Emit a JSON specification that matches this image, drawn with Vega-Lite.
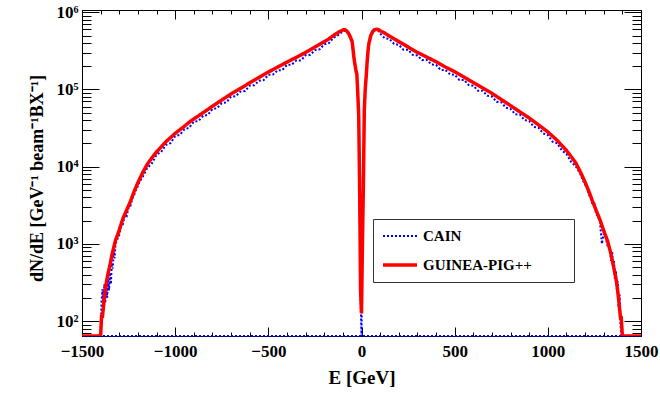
{
  "$schema": "https://vega.github.io/schema/vega-lite/v6.json",
  "autosize": "none",
  "width": 559,
  "height": 326,
  "padding": {"left": 82, "top": 10, "right": 19, "bottom": 58},
  "background": "white",
  "config": {
    "view": {"stroke": "black", "strokeWidth": 1},
    "axis": {
      "labelFont": "Liberation Serif", "labelFontWeight": "bold", "labelFontSize": 17, "labelColor": "black",
      "titleFont": "Liberation Serif", "titleFontWeight": "bold", "titleFontSize": 19, "titleColor": "black",
      "domainColor": "black", "tickColor": "black", "tickWidth": 1, "grid": false, "labelOverlap": false, "labelBound": false, "labelFlush": false
    }
  },
  "data": {"values": [
    {"series":"GUINEA-PIG++","E":-1500,"N":1},{"series":"GUINEA-PIG++","E":-1450,"N":1},{"series":"GUINEA-PIG++","E":-1400,"N":1},
    {"series":"GUINEA-PIG++","E":-1395,"N":115},
    {"series":"GUINEA-PIG++","E":-1390,"N":115},{"series":"GUINEA-PIG++","E":-1380,"N":200},{"series":"GUINEA-PIG++","E":-1370,"N":309},
    {"series":"GUINEA-PIG++","E":-1360,"N":417},{"series":"GUINEA-PIG++","E":-1350,"N":525},{"series":"GUINEA-PIG++","E":-1340,"N":710},
    {"series":"GUINEA-PIG++","E":-1330,"N":890},{"series":"GUINEA-PIG++","E":-1320,"N":1120},{"series":"GUINEA-PIG++","E":-1310,"N":1290},
    {"series":"GUINEA-PIG++","E":-1300,"N":1510},{"series":"GUINEA-PIG++","E":-1280,"N":2140},{"series":"GUINEA-PIG++","E":-1260,"N":2750},
    {"series":"GUINEA-PIG++","E":-1240,"N":3550},{"series":"GUINEA-PIG++","E":-1220,"N":4790},{"series":"GUINEA-PIG++","E":-1200,"N":6200},
    {"series":"GUINEA-PIG++","E":-1175,"N":8300},{"series":"GUINEA-PIG++","E":-1150,"N":10700},{"series":"GUINEA-PIG++","E":-1125,"N":13000},
    {"series":"GUINEA-PIG++","E":-1100,"N":15500},{"series":"GUINEA-PIG++","E":-1075,"N":18000},{"series":"GUINEA-PIG++","E":-1050,"N":21000},
    {"series":"GUINEA-PIG++","E":-1025,"N":23800},{"series":"GUINEA-PIG++","E":-1000,"N":27000},{"series":"GUINEA-PIG++","E":-975,"N":30000},
    {"series":"GUINEA-PIG++","E":-950,"N":33500},{"series":"GUINEA-PIG++","E":-925,"N":37500},{"series":"GUINEA-PIG++","E":-900,"N":41500},
    {"series":"GUINEA-PIG++","E":-875,"N":45500},{"series":"GUINEA-PIG++","E":-850,"N":50000},{"series":"GUINEA-PIG++","E":-825,"N":55000},
    {"series":"GUINEA-PIG++","E":-800,"N":60500},{"series":"GUINEA-PIG++","E":-775,"N":66500},{"series":"GUINEA-PIG++","E":-750,"N":73000},
    {"series":"GUINEA-PIG++","E":-725,"N":80000},{"series":"GUINEA-PIG++","E":-700,"N":87500},{"series":"GUINEA-PIG++","E":-675,"N":95000},
    {"series":"GUINEA-PIG++","E":-650,"N":103000},{"series":"GUINEA-PIG++","E":-625,"N":112000},{"series":"GUINEA-PIG++","E":-600,"N":122000},
    {"series":"GUINEA-PIG++","E":-575,"N":132000},{"series":"GUINEA-PIG++","E":-550,"N":143000},{"series":"GUINEA-PIG++","E":-525,"N":155000},
    {"series":"GUINEA-PIG++","E":-500,"N":168000},{"series":"GUINEA-PIG++","E":-475,"N":181000},{"series":"GUINEA-PIG++","E":-450,"N":195000},
    {"series":"GUINEA-PIG++","E":-425,"N":210000},{"series":"GUINEA-PIG++","E":-400,"N":226000},{"series":"GUINEA-PIG++","E":-375,"N":243000},
    {"series":"GUINEA-PIG++","E":-350,"N":260000},{"series":"GUINEA-PIG++","E":-325,"N":280000},{"series":"GUINEA-PIG++","E":-300,"N":302000},
    {"series":"GUINEA-PIG++","E":-275,"N":327000},{"series":"GUINEA-PIG++","E":-250,"N":355000},{"series":"GUINEA-PIG++","E":-225,"N":385000},
    {"series":"GUINEA-PIG++","E":-200,"N":417000},{"series":"GUINEA-PIG++","E":-175,"N":452000},{"series":"GUINEA-PIG++","E":-150,"N":501000},
    {"series":"GUINEA-PIG++","E":-125,"N":550000},{"series":"GUINEA-PIG++","E":-100,"N":589000},{"series":"GUINEA-PIG++","E":-90,"N":596000},
    {"series":"GUINEA-PIG++","E":-80,"N":575000},{"series":"GUINEA-PIG++","E":-70,"N":537000},{"series":"GUINEA-PIG++","E":-60,"N":479000},
    {"series":"GUINEA-PIG++","E":-50,"N":417000},{"series":"GUINEA-PIG++","E":-40,"N":251000},{"series":"GUINEA-PIG++","E":-30,"N":178000},
    {"series":"GUINEA-PIG++","E":-25,"N":158000},{"series":"GUINEA-PIG++","E":-20,"N":89100},{"series":"GUINEA-PIG++","E":-15,"N":46800},
    {"series":"GUINEA-PIG++","E":-10,"N":5500},{"series":"GUINEA-PIG++","E":-5,"N":251},{"series":"GUINEA-PIG++","E":0,"N":126},
    {"series":"GUINEA-PIG++","E":5,"N":1000},{"series":"GUINEA-PIG++","E":10,"N":5500},{"series":"GUINEA-PIG++","E":15,"N":53700},
    {"series":"GUINEA-PIG++","E":20,"N":100000},{"series":"GUINEA-PIG++","E":25,"N":144500},{"series":"GUINEA-PIG++","E":30,"N":224000},
    {"series":"GUINEA-PIG++","E":35,"N":316000},{"series":"GUINEA-PIG++","E":40,"N":398000},{"series":"GUINEA-PIG++","E":50,"N":501000},
    {"series":"GUINEA-PIG++","E":60,"N":562000},{"series":"GUINEA-PIG++","E":70,"N":596000},{"series":"GUINEA-PIG++","E":80,"N":603000},
    {"series":"GUINEA-PIG++","E":90,"N":596000},{"series":"GUINEA-PIG++","E":100,"N":575000},{"series":"GUINEA-PIG++","E":125,"N":537000},
    {"series":"GUINEA-PIG++","E":150,"N":490000},{"series":"GUINEA-PIG++","E":175,"N":452000},{"series":"GUINEA-PIG++","E":200,"N":417000},
    {"series":"GUINEA-PIG++","E":225,"N":385000},{"series":"GUINEA-PIG++","E":250,"N":355000},{"series":"GUINEA-PIG++","E":275,"N":327000},
    {"series":"GUINEA-PIG++","E":300,"N":302000},{"series":"GUINEA-PIG++","E":325,"N":282000},{"series":"GUINEA-PIG++","E":350,"N":263000},
    {"series":"GUINEA-PIG++","E":375,"N":245000},{"series":"GUINEA-PIG++","E":400,"N":229000},{"series":"GUINEA-PIG++","E":425,"N":211000},
    {"series":"GUINEA-PIG++","E":450,"N":195000},{"series":"GUINEA-PIG++","E":475,"N":182000},{"series":"GUINEA-PIG++","E":500,"N":170000},
    {"series":"GUINEA-PIG++","E":525,"N":157000},{"series":"GUINEA-PIG++","E":550,"N":145000},{"series":"GUINEA-PIG++","E":575,"N":133000},
    {"series":"GUINEA-PIG++","E":600,"N":123000},{"series":"GUINEA-PIG++","E":625,"N":113500},{"series":"GUINEA-PIG++","E":650,"N":104700},
    {"series":"GUINEA-PIG++","E":675,"N":96600},{"series":"GUINEA-PIG++","E":700,"N":89100},{"series":"GUINEA-PIG++","E":725,"N":81300},
    {"series":"GUINEA-PIG++","E":750,"N":74100},{"series":"GUINEA-PIG++","E":775,"N":67600},{"series":"GUINEA-PIG++","E":800,"N":61700},
    {"series":"GUINEA-PIG++","E":825,"N":56200},{"series":"GUINEA-PIG++","E":850,"N":51300},{"series":"GUINEA-PIG++","E":875,"N":46800},
    {"series":"GUINEA-PIG++","E":900,"N":42700},{"series":"GUINEA-PIG++","E":925,"N":38500},{"series":"GUINEA-PIG++","E":950,"N":34700},
    {"series":"GUINEA-PIG++","E":975,"N":31300},{"series":"GUINEA-PIG++","E":1000,"N":28200},{"series":"GUINEA-PIG++","E":1025,"N":24800},
    {"series":"GUINEA-PIG++","E":1050,"N":21900},{"series":"GUINEA-PIG++","E":1075,"N":18800},{"series":"GUINEA-PIG++","E":1100,"N":16200},
    {"series":"GUINEA-PIG++","E":1125,"N":13500},{"series":"GUINEA-PIG++","E":1150,"N":11200},{"series":"GUINEA-PIG++","E":1175,"N":8510},
    {"series":"GUINEA-PIG++","E":1200,"N":6310},{"series":"GUINEA-PIG++","E":1220,"N":4790},{"series":"GUINEA-PIG++","E":1240,"N":3550},
    {"series":"GUINEA-PIG++","E":1260,"N":2690},{"series":"GUINEA-PIG++","E":1280,"N":2040},{"series":"GUINEA-PIG++","E":1300,"N":1480},
    {"series":"GUINEA-PIG++","E":1320,"N":1100},{"series":"GUINEA-PIG++","E":1340,"N":724},{"series":"GUINEA-PIG++","E":1360,"N":417},
    {"series":"GUINEA-PIG++","E":1370,"N":309},{"series":"GUINEA-PIG++","E":1380,"N":191},{"series":"GUINEA-PIG++","E":1390,"N":110},
    {"series":"GUINEA-PIG++","E":1394,"N":110},
    {"series":"GUINEA-PIG++","E":1400,"N":1},{"series":"GUINEA-PIG++","E":1450,"N":1},{"series":"GUINEA-PIG++","E":1500,"N":1},

    {"series":"CAIN","E":-1500,"N":1},{"series":"CAIN","E":-1450,"N":1},{"series":"CAIN","E":-1400,"N":1},
    {"series":"CAIN","E":-1395,"N":180},{"series":"CAIN","E":-1390,"N":260},{"series":"CAIN","E":-1385,"N":140},
    {"series":"CAIN","E":-1380,"N":300},{"series":"CAIN","E":-1375,"N":170},{"series":"CAIN","E":-1370,"N":340},
    {"series":"CAIN","E":-1365,"N":200},{"series":"CAIN","E":-1360,"N":370},{"series":"CAIN","E":-1355,"N":250},
    {"series":"CAIN","E":-1350,"N":420},{"series":"CAIN","E":-1345,"N":300},{"series":"CAIN","E":-1340,"N":560},
    {"series":"CAIN","E":-1335,"N":480},{"series":"CAIN","E":-1330,"N":800},{"series":"CAIN","E":-1325,"N":650},
    {"series":"CAIN","E":-1320,"N":1000},{"series":"CAIN","E":-1310,"N":1150},{"series":"CAIN","E":-1300,"N":1300},
    {"series":"CAIN","E":-1290,"N":1700},{"series":"CAIN","E":-1280,"N":1800},{"series":"CAIN","E":-1270,"N":2400},
    {"series":"CAIN","E":-1260,"N":2300},{"series":"CAIN","E":-1250,"N":3000},{"series":"CAIN","E":-1240,"N":3100},
    {"series":"CAIN","E":-1230,"N":3900},{"series":"CAIN","E":-1220,"N":4300},{"series":"CAIN","E":-1210,"N":5000},
    {"series":"CAIN","E":-1200,"N":5600},{"series":"CAIN","E":-1190,"N":6500},{"series":"CAIN","E":-1175,"N":7300},
    {"series":"CAIN","E":-1150,"N":9600},{"series":"CAIN","E":-1125,"N":11000},{"series":"CAIN","E":-1100,"N":14300},
    {"series":"CAIN","E":-1075,"N":15500},{"series":"CAIN","E":-1050,"N":19100},{"series":"CAIN","E":-1025,"N":20200},
    {"series":"CAIN","E":-1000,"N":24800},{"series":"CAIN","E":-975,"N":25800},{"series":"CAIN","E":-950,"N":30500},
    {"series":"CAIN","E":-925,"N":31900},{"series":"CAIN","E":-900,"N":38200},{"series":"CAIN","E":-875,"N":39100},
    {"series":"CAIN","E":-850,"N":45500},{"series":"CAIN","E":-825,"N":46800},{"series":"CAIN","E":-800,"N":55700},
    {"series":"CAIN","E":-775,"N":57200},{"series":"CAIN","E":-750,"N":66400},{"series":"CAIN","E":-725,"N":68000},
    {"series":"CAIN","E":-700,"N":80500},{"series":"CAIN","E":-675,"N":81700},{"series":"CAIN","E":-650,"N":93700},
    {"series":"CAIN","E":-625,"N":95200},{"series":"CAIN","E":-600,"N":112000},{"series":"CAIN","E":-575,"N":113500},
    {"series":"CAIN","E":-550,"N":130000},{"series":"CAIN","E":-525,"N":132000},{"series":"CAIN","E":-500,"N":155000},
    {"series":"CAIN","E":-475,"N":156000},{"series":"CAIN","E":-450,"N":177000},{"series":"CAIN","E":-425,"N":178500},
    {"series":"CAIN","E":-400,"N":208000},{"series":"CAIN","E":-375,"N":209000},{"series":"CAIN","E":-350,"N":237000},
    {"series":"CAIN","E":-325,"N":238000},{"series":"CAIN","E":-300,"N":278000},{"series":"CAIN","E":-275,"N":281000},
    {"series":"CAIN","E":-250,"N":323000},{"series":"CAIN","E":-225,"N":331000},{"series":"CAIN","E":-200,"N":384000},
    {"series":"CAIN","E":-175,"N":398000},{"series":"CAIN","E":-150,"N":466000},{"series":"CAIN","E":-125,"N":506000},
    {"series":"CAIN","E":-100,"N":565000},{"series":"CAIN","E":-90,"N":580000},{"series":"CAIN","E":-80,"N":560000},
    {"series":"CAIN","E":-70,"N":520000},{"series":"CAIN","E":-60,"N":465000},{"series":"CAIN","E":-50,"N":400000},
    {"series":"CAIN","E":-40,"N":240000},{"series":"CAIN","E":-30,"N":170000},{"series":"CAIN","E":-25,"N":152000},
    {"series":"CAIN","E":-20,"N":85000},{"series":"CAIN","E":-15,"N":44000},{"series":"CAIN","E":-10,"N":4800},
    {"series":"CAIN","E":-5,"N":200},{"series":"CAIN","E":0,"N":1},{"series":"CAIN","E":5,"N":1300},
    {"series":"CAIN","E":10,"N":5000},{"series":"CAIN","E":15,"N":50000},{"series":"CAIN","E":20,"N":95000},
    {"series":"CAIN","E":25,"N":140000},{"series":"CAIN","E":30,"N":215000},{"series":"CAIN","E":35,"N":305000},
    {"series":"CAIN","E":40,"N":385000},{"series":"CAIN","E":50,"N":490000},{"series":"CAIN","E":60,"N":545000},
    {"series":"CAIN","E":70,"N":580000},{"series":"CAIN","E":80,"N":590000},{"series":"CAIN","E":90,"N":575000},
    {"series":"CAIN","E":100,"N":529000},{"series":"CAIN","E":125,"N":462000},{"series":"CAIN","E":150,"N":451000},
    {"series":"CAIN","E":175,"N":389000},{"series":"CAIN","E":200,"N":379000},{"series":"CAIN","E":225,"N":327000},
    {"series":"CAIN","E":250,"N":327000},{"series":"CAIN","E":275,"N":281000},{"series":"CAIN","E":300,"N":275000},
    {"series":"CAIN","E":325,"N":240000},{"series":"CAIN","E":350,"N":242000},{"series":"CAIN","E":375,"N":211000},
    {"series":"CAIN","E":400,"N":208000},{"series":"CAIN","E":425,"N":179000},{"series":"CAIN","E":450,"N":179000},
    {"series":"CAIN","E":475,"N":157000},{"series":"CAIN","E":500,"N":155000},{"series":"CAIN","E":525,"N":133000},
    {"series":"CAIN","E":550,"N":133000},{"series":"CAIN","E":575,"N":114000},{"series":"CAIN","E":600,"N":112000},
    {"series":"CAIN","E":625,"N":96500},{"series":"CAIN","E":650,"N":96300},{"series":"CAIN","E":675,"N":83100},
    {"series":"CAIN","E":700,"N":81100},{"series":"CAIN","E":725,"N":69100},{"series":"CAIN","E":750,"N":68200},
    {"series":"CAIN","E":775,"N":58100},{"series":"CAIN","E":800,"N":56100},{"series":"CAIN","E":825,"N":47800},
    {"series":"CAIN","E":850,"N":47200},{"series":"CAIN","E":875,"N":40200},{"series":"CAIN","E":900,"N":38900},
    {"series":"CAIN","E":925,"N":32700},{"series":"CAIN","E":950,"N":31900},{"series":"CAIN","E":975,"N":26900},
    {"series":"CAIN","E":1000,"N":25700},{"series":"CAIN","E":1025,"N":21100},{"series":"CAIN","E":1050,"N":20100},
    {"series":"CAIN","E":1075,"N":16200},{"series":"CAIN","E":1100,"N":14600},{"series":"CAIN","E":1125,"N":11500},
    {"series":"CAIN","E":1150,"N":10100},{"series":"CAIN","E":1175,"N":8000},{"series":"CAIN","E":1190,"N":6500},
    {"series":"CAIN","E":1200,"N":5800},{"series":"CAIN","E":1210,"N":5600},{"series":"CAIN","E":1220,"N":4300},
    {"series":"CAIN","E":1230,"N":4100},{"series":"CAIN","E":1240,"N":3200},{"series":"CAIN","E":1250,"N":3300},
    {"series":"CAIN","E":1260,"N":2400},{"series":"CAIN","E":1270,"N":2300},{"series":"CAIN","E":1280,"N":1900},
    {"series":"CAIN","E":1290,"N":1000},{"series":"CAIN","E":1300,"N":1350},{"series":"CAIN","E":1310,"N":1250},
    {"series":"CAIN","E":1320,"N":950},{"series":"CAIN","E":1330,"N":900},{"series":"CAIN","E":1340,"N":600},
    {"series":"CAIN","E":1345,"N":800},{"series":"CAIN","E":1350,"N":480},{"series":"CAIN","E":1355,"N":600},
    {"series":"CAIN","E":1360,"N":350},{"series":"CAIN","E":1365,"N":450},{"series":"CAIN","E":1370,"N":260},
    {"series":"CAIN","E":1375,"N":330},{"series":"CAIN","E":1380,"N":150},{"series":"CAIN","E":1385,"N":220},
    {"series":"CAIN","E":1390,"N":90},{"series":"CAIN","E":1395,"N":1},{"series":"CAIN","E":1400,"N":1},
    {"series":"CAIN","E":1450,"N":1},{"series":"CAIN","E":1500,"N":1}
  ]},
  "resolve": {"axis": {"x": "independent", "y": "independent"}},
  "layer": [
    {
      "data": {"values": [{"baseline": 64}]},
      "mark": {"type": "rule", "color": "#0000ff", "strokeWidth": 2, "strokeDash": [2, 2]},
      "encoding": {
        "y": {"field": "baseline", "type": "quantitative", "scale": {"type": "log", "domain": [64, 1070000], "clamp": true, "nice": false}, "axis": null}
      }
    },
    {
      "transform": [{"filter": "datum.series == 'CAIN'"}],
      "mark": {"type": "line", "interpolate": "linear", "clip": true},
      "encoding": {
        "x": {"field": "E", "type": "quantitative",
          "scale": {"domain": [-1500, 1500], "nice": false, "zero": false},
          "axis": {"orient": "bottom", "title": "E [GeV]", "titleY": 47, "titleBaseline": "alphabetic",
            "values": [-1500,-1400,-1300,-1200,-1100,-1000,-900,-800,-700,-600,-500,-400,-300,-200,-100,0,100,200,300,400,500,600,700,800,900,1000,1100,1200,1300,1400,1500],
            "labelExpr": "datum.value % 500 == 0 ? format(datum.value, 'd') : ''",
            "tickSize": {"condition": {"test": "datum.value % 500 == 0", "value": -9}, "value": -4},
            "labelPadding": 16}},
        "y": {"field": "N", "type": "quantitative",
          "scale": {"type": "log", "domain": [64, 1070000], "clamp": true, "nice": false},
          "axis": {"orient": "left", "title": "dN/dE [GeV⁻¹ beam⁻¹BX⁻¹]", "titleFontSize": 18,
            "titleX": -40, "titleY": 168, "titleAngle": -90, "titleBaseline": "alphabetic", "titleAlign": "center",
            "values": [70,80,90,100,200,300,400,500,600,700,800,900,1000,2000,3000,4000,5000,6000,7000,8000,9000,10000,20000,30000,40000,50000,60000,70000,80000,90000,100000,200000,300000,400000,500000,600000,700000,800000,900000,1000000],
            "labelExpr": "abs(log(datum.value)/LN10 - round(log(datum.value)/LN10)) < 0.001 ? '10' + ['⁰','¹','²','³','⁴','⁵','⁶'][round(log(datum.value)/LN10)] : ''",
            "tickSize": {"condition": {"test": "abs(log(datum.value)/LN10 - round(log(datum.value)/LN10)) < 0.001", "value": -17}, "value": -9},
            "labelPadding": 21}},
        "color": {"field": "series", "type": "nominal",
          "scale": {"domain": ["CAIN", "GUINEA-PIG++"], "range": ["#0000ff", "#ff0000"]},
          "legend": {"orient": "none", "legendX": 291, "legendY": 209, "title": null,
            "fillColor": "white", "strokeColor": "#333", "padding": 9,
            "symbolType": "M-2.5,0H2.5", "symbolSize": 185, "symbolOffset": 9, "labelFont": "Liberation Serif", "labelFontWeight": "bold",
            "labelFontSize": 15, "labelColor": "black", "labelOffset": 14, "rowPadding": 12,
            "labelExpr": "datum.label + '\u2800\u2800\u2800'"}},
        "strokeDash": {"field": "series", "type": "nominal", "scale": {"domain": ["CAIN", "GUINEA-PIG++"], "range": [[2, 2], [1, 0]]}},
        "strokeWidth": {"field": "series", "type": "nominal", "scale": {"domain": ["CAIN", "GUINEA-PIG++"], "range": [2, 3.5]}}
      }
    },
    {
      "transform": [{"filter": "datum.series == 'GUINEA-PIG++'"}],
      "mark": {"type": "line", "interpolate": "linear", "clip": true},
      "encoding": {
        "x": {"field": "E", "type": "quantitative",
          "axis": {"orient": "top", "title": null, "labels": false,
            "values": [-1500,-1400,-1300,-1200,-1100,-1000,-900,-800,-700,-600,-500,-400,-300,-200,-100,0,100,200,300,400,500,600,700,800,900,1000,1100,1200,1300,1400,1500],
            "tickSize": {"condition": {"test": "datum.value % 500 == 0", "value": -9}, "value": -4}}},
        "y": {"field": "N", "type": "quantitative",
          "axis": {"orient": "right", "title": null, "labels": false,
            "values": [70,80,90,100,200,300,400,500,600,700,800,900,1000,2000,3000,4000,5000,6000,7000,8000,9000,10000,20000,30000,40000,50000,60000,70000,80000,90000,100000,200000,300000,400000,500000,600000,700000,800000,900000,1000000],
            "tickSize": {"condition": {"test": "abs(log(datum.value)/LN10 - round(log(datum.value)/LN10)) < 0.001", "value": -17}, "value": -9}}},
        "color": {"field": "series", "type": "nominal"},
        "strokeDash": {"field": "series", "type": "nominal"},
        "strokeWidth": {"field": "series", "type": "nominal"}
      }
    }
  ]
}
